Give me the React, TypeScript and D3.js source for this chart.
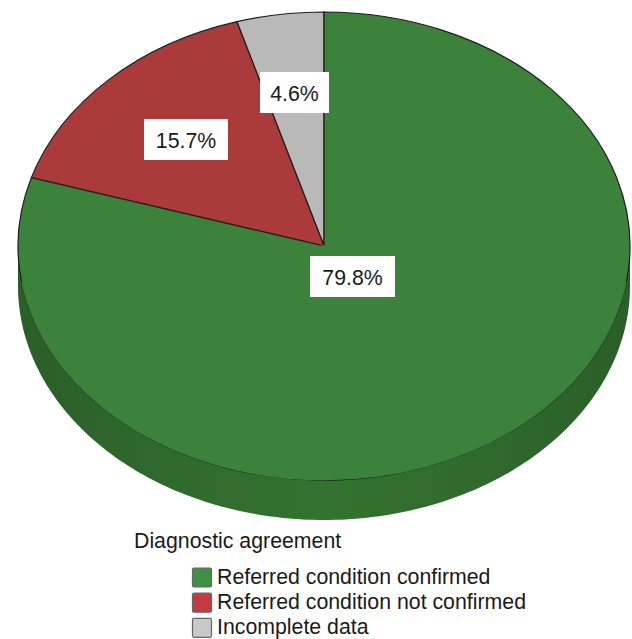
import * as d3 from 'd3';

const categories = ['Referred condition confirmed', 'Referred condition not confirmed', 'Incomplete data'];
const percents = [79.8, 15.7, 4.6];
const percentLabels = ['79.8%', '15.7%', '4.6%'];
const sliceColors = ['#3b823b', '#ab3a3a', '#b9b9b9'];
const legendColors = ['#3d9142', '#c23b3d', '#c8c8c8'];
const legendTitle = 'Diagnostic agreement';

const width = 632;
const height = 639;
const cx = 324;
const cy = 246;
const rx = 306;
const ry = 234;
const depth = 40;
const font = '"Liberation Sans", Arial, sans-serif';

// label boxes sit on top of the slices, same order as categories
const labelBoxes = [
    { x: 310, y: 256, w: 85, h: 41 },
    { x: 144, y: 119, w: 84, h: 41 },
    { x: 260, y: 72, w: 69, h: 41 },
];

export default function App() {
    // slices run counter-clockwise from 12 o'clock: grey, red, then green
    const order = [2, 1, 0];
    const pie = d3.pie<number>()
        .sort(null)
        .startAngle(0)
        .endAngle(-2 * Math.PI)
        .value(i => percents[i]);
    const arcs = pie(order);

    const arc = d3.arc<d3.PieArcDatum<number>>()
        .innerRadius(0)
        .outerRadius(rx);

    // Side wall of the tilted disc, lower half of the ellipse
    const wallAngles = d3.range(90, 270.5, 1).map(d => d * Math.PI / 180);
    const wall = d3.area<number>()
        .x(a => cx + rx * Math.sin(a))
        .y0(a => cy - ry * Math.cos(a))
        .y1(a => cy - ry * Math.cos(a) + depth);

    const legendY = d3.scaleBand<number>()
        .domain(d3.range(categories.length))
        .range([565, 640.5]);

    return (
        <svg
            width={width}
            height={height}
            viewBox={`0 0 ${width} ${height}`}
            style={{ position: 'absolute', left: 0, top: 0, background: '#fff' }}
        >
            <defs>
                <linearGradient id="wallFill" x1="0" x2="1" y1="0" y2="0">
                    <stop offset="0" stopColor="#2a5f28" />
                    <stop offset="0.25" stopColor="#2f6a2d" />
                    <stop offset="0.5" stopColor="#33722f" />
                    <stop offset="0.75" stopColor="#2f6a2d" />
                    <stop offset="1" stopColor="#2a5f28" />
                </linearGradient>
            </defs>

            <path d={wall(wallAngles) ?? ''} fill="url(#wallFill)" />

            <g transform={`translate(${cx},${cy}) scale(1,${ry / rx})`}>
                {arcs.map(d => (
                    <path
                        key={d.data}
                        d={arc(d) ?? ''}
                        fill={sliceColors[d.data]}
                        stroke="#1e1e1e"
                        strokeWidth={1.2}
                        vectorEffect="non-scaling-stroke"
                    />
                ))}
                {/* the lower rim has no dark outline in the reference */}
                <path
                    d={d3.arc<unknown>()({ innerRadius: 0, outerRadius: rx - 0.5, startAngle: Math.PI * 0.55, endAngle: Math.PI * 1.45 }) ?? ''}
                    fill={sliceColors[0]}
                    stroke={sliceColors[0]}
                    strokeWidth={1.4}
                    vectorEffect="non-scaling-stroke"
                />
            </g>

            {labelBoxes.map((b, i) => (
                <g key={percentLabels[i]}>
                    <rect x={b.x} y={b.y} width={b.w} height={b.h} fill="#fff" />
                    <text
                        x={b.x + b.w / 2}
                        y={b.y + b.h / 2 + 8}
                        textAnchor="middle"
                        fontFamily={font}
                        fontSize={21.3}
                        fill="#1a1a1a"
                    >
                        {percentLabels[i]}
                    </text>
                </g>
            ))}

            <text x={134} y={548} fontFamily={font} fontSize={21.3} fill="#1a1a1a">{legendTitle}</text>
            {categories.map((c, i) => (
                <g key={c} transform={`translate(192,${legendY(i) ?? 0})`}>
                    <rect x={0.5} y={3} width={19} height={19} rx={1.5} fill={legendColors[i]} stroke="#666" strokeWidth={1.2} />
                    <text x={25} y={19} fontFamily={font} fontSize={21.3} fill="#1a1a1a">{c}</text>
                </g>
            ))}
        </svg>
    );
}
